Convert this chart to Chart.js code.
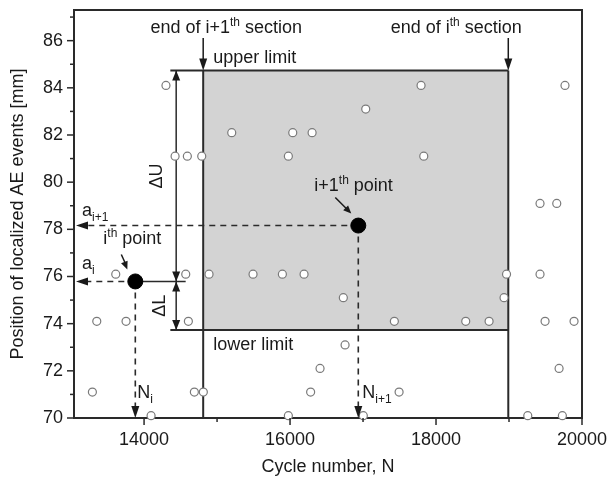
<!DOCTYPE html>
<html>
<head>
<meta charset="utf-8">
<script src="https://cdn.jsdelivr.net/npm/chart.js@4.4.1/dist/chart.umd.min.js"></script>
<style>
  html, body { margin: 0; padding: 0; background: #fff; overflow: hidden; }
</style>
</head>
<body>
<canvas id="grafico" width="608" height="478"></canvas>
<script>
// eventos AE localizados (circulos abiertos)
const ciclos = [
    14300, 17795, 19767,
    17037,
    15201, 16037, 16302,
    14425, 14593, 14790, 15977, 17832,
    19425, 19654,
    13612, 14571, 14890, 15493, 15895, 16192, 18966, 19425,
    16730, 18932,
    13352, 13753, 14607, 17429, 18407, 18727, 19494, 19891,
    16754,
    16411, 19686,
    13292, 14689, 14812, 16282, 17494,
    14096, 15977, 17004, 19257, 19731
];
const posiciones = [
    84.1, 84.1, 84.1,
    83.1,
    82.1, 82.1, 82.1,
    81.1, 81.1, 81.1, 81.1, 81.1,
    79.1, 79.1,
    76.1, 76.1, 76.1, 76.1, 76.1, 76.1, 76.1, 76.1,
    75.1, 75.1,
    74.1, 74.1, 74.1, 74.1, 74.1, 74.1, 74.1, 74.1,
    73.1,
    72.1, 72.1,
    71.1, 71.1, 71.1, 71.1, 71.1,
    70.1, 70.1, 70.1, 70.1, 70.1
];

// punto i y punto i+1
const ciclosPunto = [13880, 16935];
const posicionesPunto = [75.79, 78.16];

// fin de seccion i+1 e i, limites inferior y superior
const finSeccion = [14810, 18990];
const limites = [73.73, 84.73];
const inicioLimite = 14360;
const cicloDelta = 14440;
const finLineaI = 14570;

const ticksX = [14000, 16000, 18000, 20000];
const menoresX = [15000, 17000, 19000];
const ticksY = [70, 72, 74, 76, 78, 80, 82, 84, 86];
const menoresY = [71, 73, 75, 77, 79, 81, 83, 85, 87];

const FAMILIA = '"Liberation Sans", Arial, sans-serif';
const TINTA = '#1a1a1a';

function fuente(tipo) {
    return (tipo === 'n' ? 18 : 12) + 'px ' + FAMILIA;
}

function textoRico(ctx, partes, x, y, align) {
    let ancho = 0;
    partes.forEach(p => {
        ctx.font = fuente(p[1]);
        ancho += ctx.measureText(p[0]).width;
    });
    let cx = align === 'center' ? x - ancho / 2 : x;
    ctx.textAlign = 'left';
    ctx.textBaseline = 'alphabetic';
    partes.forEach(p => {
        ctx.font = fuente(p[1]);
        const dy = p[1] === 'sup' ? -7 : (p[1] === 'sub' ? 5 : 0);
        ctx.fillText(p[0], cx, y + dy);
        cx += ctx.measureText(p[0]).width;
    });
}

function punta(ctx, x1, y1, x2, y2, largo, medio) {
    const ang = Math.atan2(y2 - y1, x2 - x1);
    ctx.beginPath();
    ctx.moveTo(x2, y2);
    ctx.lineTo(x2 - largo * Math.cos(ang) + medio * Math.sin(ang), y2 - largo * Math.sin(ang) - medio * Math.cos(ang));
    ctx.lineTo(x2 - largo * Math.cos(ang) - medio * Math.sin(ang), y2 - largo * Math.sin(ang) + medio * Math.cos(ang));
    ctx.closePath();
    ctx.fill();
}

function linea(ctx, x1, y1, x2, y2) {
    ctx.beginPath();
    ctx.moveTo(x1, y1);
    ctx.lineTo(x2, y2);
    ctx.stroke();
}

const anotaciones = {
    id: 'anotaciones',
    beforeDatasetsDraw(chart) {
        const ctx = chart.ctx;
        const a = chart.chartArea;
        const px = v => chart.scales.x.getPixelForValue(v);
        const py = v => chart.scales.y.getPixelForValue(v);
        ctx.save();

        // zona gris entre limites
        ctx.fillStyle = '#d3d3d3';
        ctx.fillRect(px(finSeccion[0]), py(limites[1]), px(finSeccion[1]) - px(finSeccion[0]), py(limites[0]) - py(limites[1]));

        ctx.strokeStyle = '#2a2a2a';
        ctx.lineWidth = 2;
        linea(ctx, px(inicioLimite), py(limites[1]), px(finSeccion[1]), py(limites[1]));
        linea(ctx, px(inicioLimite), py(limites[0]), px(finSeccion[1]), py(limites[0]));
        finSeccion.forEach(c => linea(ctx, px(c), py(limites[1]), px(c), a.bottom));

        // marco
        ctx.strokeRect(a.left, a.top, a.right - a.left, a.bottom - a.top);

        // lineas discontinuas hacia los ejes
        ctx.lineWidth = 1.6;
        ctx.setLineDash([6, 5]);
        for (let k = 0; k < 2; k++) {
            const x = px(ciclosPunto[k]);
            const y = py(posicionesPunto[k]);
            linea(ctx, x, y, a.left + 10, y);
            linea(ctx, x, y, x, a.bottom - 10);
        }
        ctx.setLineDash([]);

        // linea del punto i y flechas delta
        ctx.lineWidth = 1.5;
        linea(ctx, px(ciclosPunto[0]), py(posicionesPunto[0]), px(finLineaI), py(posicionesPunto[0]));
        linea(ctx, px(cicloDelta), py(limites[1]), px(cicloDelta), py(limites[0]));
        ctx.restore();
    },
    afterDatasetsDraw(chart) {
        const ctx = chart.ctx;
        const a = chart.chartArea;
        const px = v => chart.scales.x.getPixelForValue(v);
        const py = v => chart.scales.y.getPixelForValue(v);
        ctx.save();
        ctx.fillStyle = TINTA;
        ctx.strokeStyle = TINTA;

        // puntas de flecha
        const xd = px(cicloDelta);
        const yi = py(posicionesPunto[0]);
        punta(ctx, xd, yi, xd, py(limites[1]), 10, 4);
        punta(ctx, xd, py(limites[1]), xd, yi, 10, 4);
        punta(ctx, xd, py(limites[0]), xd, yi, 10, 4);
        punta(ctx, xd, yi, xd, py(limites[0]), 10, 4);
        for (let k = 0; k < 2; k++) {
            const x = px(ciclosPunto[k]);
            const y = py(posicionesPunto[k]);
            punta(ctx, x, y, a.left + 2, y, 12, 4);
            punta(ctx, x, y, x, a.bottom, 12, 4);
        }

        // flechas de fin de seccion
        ctx.lineWidth = 1.5;
        finSeccion.forEach(c => {
            linea(ctx, px(c), a.top + 28, px(c), py(limites[1]) - 6);
            punta(ctx, px(c), a.top + 28, px(c), py(limites[1]), 12, 4);
        });

        // flechas de las etiquetas de punto
        const x1 = px(ciclosPunto[1]), y1 = py(posicionesPunto[1]);
        const x0 = px(ciclosPunto[0]), y0 = py(posicionesPunto[0]);
        linea(ctx, x1 - 23, y1 - 28, x1 - 10, y1 - 15);
        punta(ctx, x1 - 23, y1 - 28, x1 - 7, y1 - 12, 8, 3.5);
        linea(ctx, x0 - 14, y0 - 27, x0 - 9, y0 - 16);
        punta(ctx, x0 - 14, y0 - 27, x0 - 8, y0 - 12, 8, 3.5);

        // textos
        textoRico(ctx, [['end of i+1', 'n'], ['th', 'sup'], [' section', 'n']], px(finSeccion[0]) + 23, a.top + 23, 'center');
        textoRico(ctx, [['end of i', 'n'], ['th', 'sup'], [' section', 'n']], px(finSeccion[1]) - 52, a.top + 23, 'center');
        textoRico(ctx, [['upper limit', 'n']], px(finSeccion[0]) + 10, py(limites[1]) - 8, 'left');
        textoRico(ctx, [['lower limit', 'n']], px(finSeccion[0]) + 10, py(limites[0]) + 20, 'left');
        textoRico(ctx, [['i+1', 'n'], ['th', 'sup'], [' point', 'n']], x1 - 44, y1 - 35, 'left');
        textoRico(ctx, [['i', 'n'], ['th', 'sup'], [' point', 'n']], x0 - 32, y0 - 37, 'left');
        textoRico(ctx, [['a', 'n'], ['i+1', 'sub']], a.left + 8, y1 - 10, 'left');
        textoRico(ctx, [['a', 'n'], ['i', 'sub']], a.left + 8, y0 - 12, 'left');
        textoRico(ctx, [['N', 'n'], ['i', 'sub']], x0 + 2, a.bottom - 20, 'left');
        textoRico(ctx, [['N', 'n'], ['i+1', 'sub']], x1 + 4, a.bottom - 20, 'left');

        ctx.font = fuente('n');
        ctx.textAlign = 'center';
        ctx.textBaseline = 'middle';
        ctx.save();
        ctx.translate(xd - 19, (py(limites[1]) + yi) / 2);
        ctx.rotate(-Math.PI / 2);
        ctx.fillText('\u0394U', 0, 0);
        ctx.restore();
        ctx.save();
        ctx.translate(xd - 16, (py(limites[0]) + yi) / 2);
        ctx.rotate(-Math.PI / 2);
        ctx.fillText('\u0394L', 0, 0);
        ctx.restore();

        // marcas de los ejes
        ctx.strokeStyle = '#2a2a2a';
        ctx.lineWidth = 1.5;
        ticksX.forEach(v => linea(ctx, px(v), a.bottom, px(v), a.bottom + 7));
        menoresX.forEach(v => linea(ctx, px(v), a.bottom, px(v), a.bottom + 4));
        ticksY.forEach(v => linea(ctx, a.left, py(v), a.left - 7, py(v)));
        menoresY.forEach(v => linea(ctx, a.left, py(v), a.left - 4, py(v)));
        ctx.restore();
    }
};

const fuenteEje = { family: FAMILIA, size: 18 };

new Chart(document.getElementById('grafico'), {
    type: 'scatter',
    data: {
        datasets: [
            {
                data: ciclosPunto.map((c, k) => ({ x: c, y: posicionesPunto[k] })),
                pointRadius: 7.5,
                pointBackgroundColor: '#000',
                pointBorderColor: '#000',
                clip: false
            },
            {
                data: ciclos.map((c, k) => ({ x: c, y: posiciones[k] })),
                pointRadius: 4,
                pointBorderWidth: 1.2,
                pointBackgroundColor: '#fff',
                pointBorderColor: '#7a7a7a',
                clip: false
            }
        ]
    },
    options: {
        responsive: false,
        animation: false,
        devicePixelRatio: 1,
        layout: { padding: { top: 10, right: 0, bottom: 0, left: 0 } },
        plugins: { legend: { display: false }, tooltip: { enabled: false } },
        scales: {
            x: {
                type: 'linear',
                position: 'bottom',
                min: 13040,
                max: 20000,
                afterBuildTicks: s => { s.ticks = ticksX.map(v => ({ value: v })); },
                afterFit: s => { s.height = 60; s.paddingLeft = 0; s.paddingRight = 26; },
                ticks: { font: fuenteEje, color: TINTA, padding: 4, maxRotation: 0, callback: v => String(v) },
                grid: { drawOnChartArea: false, tickLength: 7, color: 'rgba(0,0,0,0)' },
                border: { display: false },
                title: { display: true, text: 'Cycle number, N', font: fuenteEje, color: TINTA, padding: { top: 0, bottom: 0 } }
            },
            y: {
                type: 'linear',
                min: 70,
                max: 87.3,
                afterBuildTicks: s => { s.ticks = ticksY.map(v => ({ value: v })); },
                afterFit: s => { s.width = 74; s.paddingTop = 0; s.paddingBottom = 0; },
                ticks: { font: fuenteEje, color: TINTA, padding: 4, callback: v => String(v) },
                grid: { drawOnChartArea: false, tickLength: 7, color: 'rgba(0,0,0,0)' },
                border: { display: false },
                title: { display: true, text: 'Position of localized AE events [mm]', font: fuenteEje, color: TINTA, padding: { top: 7, bottom: 0 } }
            }
        }
    },
    plugins: [anotaciones]
});
</script>
</body>
</html>
